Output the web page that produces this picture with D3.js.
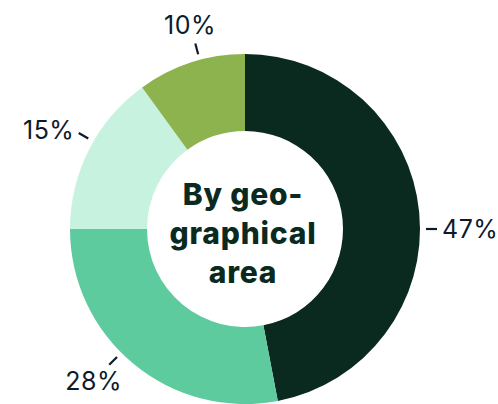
<!DOCTYPE html>
<html>
<head>
<meta charset="utf-8">
<script src="https://cdn.jsdelivr.net/npm/d3@7.9.0/dist/d3.min.js"></script>
<style>
  html, body { margin: 0; padding: 0; background: #ffffff; }
  svg { display: block; }
</style>
</head>
<body>
<svg id="chart" width="498" height="404"></svg>
<script>
// Share of each slice, clockwise from 12 o'clock
const shares = [47, 28, 15, 10];
const shareLabels = ["47%", "28%", "15%", "10%"];
const sliceColors = ["#0a2a1f", "#5ecb9f", "#c8f2e0", "#8db34f"];
const titleLines = ["By geo-", "graphical", "area"];

const width = 498, height = 404;
const cx = 245, cy = 229;
const outerR = 175, innerR = 98;

const svg = d3.select("#chart");
const g = svg.append("g").attr("transform", `translate(${cx},${cy})`);

// Pie layout, keep data order
const pie = d3.pie().sort(null).value(d => d);
const arcData = pie(shares);

const arc = d3.arc().innerRadius(innerR).outerRadius(outerR);

g.selectAll("path.slice")
  .data(arcData)
  .join("path")
  .attr("class", "slice")
  .attr("d", arc)
  .attr("fill", (d, i) => sliceColors[i]);

// Label angle: slice middle, snapped to 15 degree steps
const step = Math.PI / 12;
const labelAngle = d => Math.round(((d.startAngle + d.endAngle) / 2) / step) * step;

const tickIn = outerR + 6, tickOut = outerR + 17, textR = outerR + 22;

arcData.forEach((d, i) => {
  const a = labelAngle(d);
  const sx = Math.sin(a), cy_ = -Math.cos(a);

  g.append("line")
    .attr("x1", sx * tickIn).attr("y1", cy_ * tickIn)
    .attr("x2", sx * tickOut).attr("y2", cy_ * tickOut)
    .attr("stroke", "#0c1b2c")
    .attr("stroke-width", 2.2);

  const label = g.append("text")
    .attr("font-family", "Inter, 'Liberation Sans', sans-serif")
    .attr("font-weight", 400)
    .attr("font-size", 25)
    .attr("letter-spacing", 0.5)
    .attr("fill", "#0c1b2c")
    .text(shareLabels[i]);

  let tx = sx * textR, ty = cy_ * textR;
  let anchor = "middle", dy = "0.35em";
  if (Math.abs(sx) > 0.8) {
    anchor = sx > 0 ? "start" : "end";
  } else {
    // lean the label a bit towards its side
    tx += sx * label.node().getComputedTextLength() * 0.3;
    dy = cy_ < 0 ? "-0.2em" : "0.85em";
  }

  label
    .attr("x", tx)
    .attr("y", ty)
    .attr("dy", dy)
    .attr("text-anchor", anchor);
});

// Centre title
const lineH = 39;
g.append("text")
  .attr("text-anchor", "middle")
  .attr("font-family", "Inter, 'Liberation Sans', sans-serif")
  .attr("font-weight", 800)
  .attr("font-size", 30)
  .attr("letter-spacing", 0.8)
  .attr("fill", "#0a2a1f")
  .selectAll("tspan")
  .data(titleLines)
  .join("tspan")
  .attr("x", -2)
  .attr("y", (d, i) => -24 + i * lineH)
  .text(d => d);
</script>
</body>
</html>
